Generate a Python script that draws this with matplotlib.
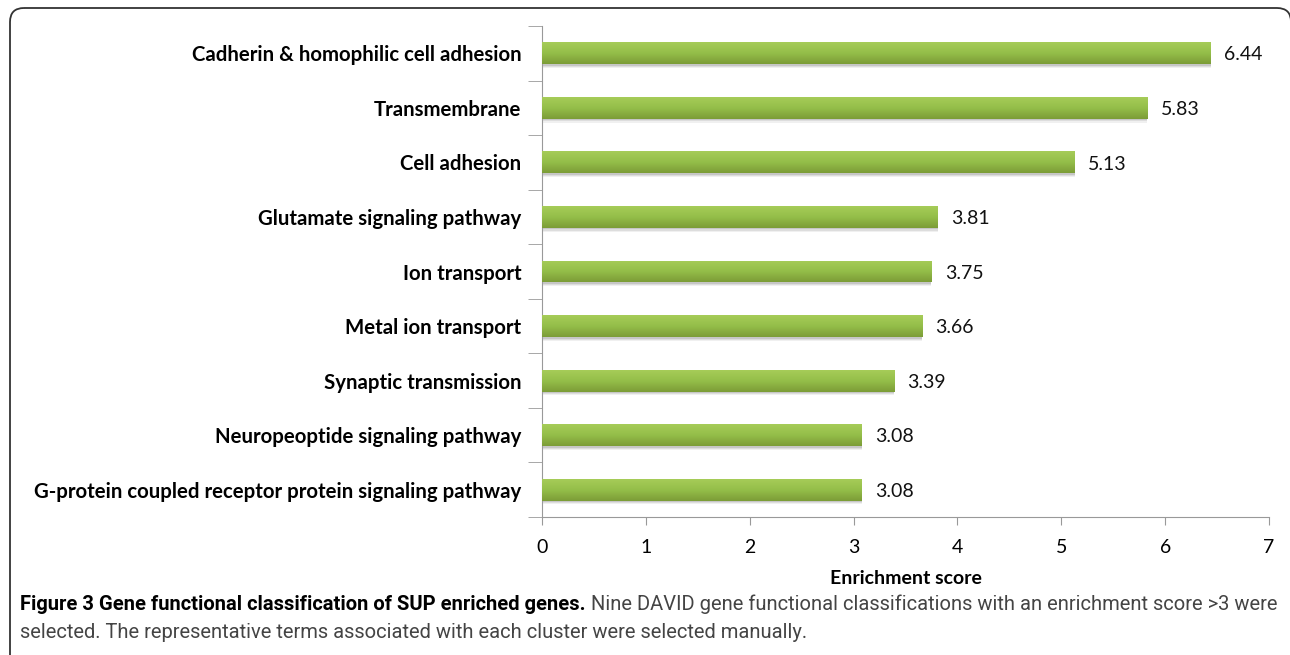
import matplotlib.pyplot as plt
import numpy as np
from matplotlib.patches import FancyBboxPatch
from matplotlib.colors import LinearSegmentedColormap

terms = ["Cadherin & homophilic cell adhesion", "Transmembrane", "Cell adhesion",
         "Glutamate signaling pathway", "Ion transport", "Metal ion transport",
         "Synaptic transmission", "Neuropeoptide signaling pathway",
         "G-protein coupled receptor protein signaling pathway"]
scores = [6.44, 5.83, 5.13, 3.81, 3.75, 3.66, 3.39, 3.08, 3.08]
xticks = [0, 1, 2, 3, 4, 5, 6, 7]

caption_bold = "Figure 3 Gene functional classification of SUP enriched genes."
caption_1 = " Nine DAVID gene functional classifications with an enrichment score >3 were"
caption_2 = "selected. The representative terms associated with each cluster were selected manually."

W, H = 1290, 655
fig = plt.figure(figsize=(W / 100, H / 100), dpi=100)

# background axes in pixel units for the rounded frame
bg = fig.add_axes([0, 0, 1, 1], zorder=-1)
bg.set_xlim(0, W)
bg.set_ylim(H, 0)
bg.axis("off")
bg.add_patch(FancyBboxPatch((10, 8), 1281, 670, boxstyle="round,pad=0,rounding_size=14",
                            fill=False, ec="#333333", lw=1.3))

ax = fig.add_axes([542 / W, 1 - 517 / H, 727 / W, 491 / H])
y = np.arange(len(terms))
h = 0.4

# soft shadow under bars
for k, a in [(0.07, 0.06), (0.05, 0.08), (0.03, 0.10)]:
    ax.barh(y + k, scores, height=h, color="#000000", alpha=a, lw=0, zorder=1)

bars = ax.barh(y, scores, height=h, color="#8db443", lw=0, zorder=2)
grad = np.linspace(0, 1, 100).reshape(-1, 1)
cmap = LinearSegmentedColormap.from_list("g", ["#a6cc58", "#94be49", "#7c9c37"])
for b in bars:
    x0, y0, w, hh = b.get_x(), b.get_y(), b.get_width(), b.get_height()
    im = ax.imshow(grad, cmap=cmap, aspect="auto", extent=[x0, x0 + w, y0 + hh, y0], zorder=3)
    im.set_clip_path(b)

for yi, s in zip(y, scores):
    ax.text(s + 0.13, yi + 0.03, f"{s:.2f}", va="center", ha="left", fontsize=14,
            family="Lato", color="#111111")

ax.set_xlim(0, 7)
ax.set_ylim(len(terms) - 0.5, -0.5)
ax.set_xticks(xticks)
ax.set_xticklabels([str(t) for t in xticks], fontsize=14, family="Lato")
ax.set_yticks(y)
ax.set_yticklabels(terms, fontsize=14.7, family="Lato", fontweight="bold")
ax.tick_params(axis="y", length=0, pad=15)
ax.set_yticks(np.arange(len(terms) + 1) - 0.5, minor=True)
ax.tick_params(axis="y", which="minor", length=10, color="#999999")
ax.tick_params(axis="x", length=6, color="#999999", pad=10)
for sp in ["top", "right"]:
    ax.spines[sp].set_visible(False)
ax.spines["left"].set_color("#999999")
ax.spines["bottom"].set_color("#999999")
ax.set_xlabel("Enrichment score", fontsize=14, family="Lato", fontweight="bold", labelpad=10)

# caption, first line fitted to the frame width
cap_font = "Roboto"
fs = 12.5
t1 = fig.text(20 / W, 1 - 604 / H, caption_bold, fontsize=fs, family=cap_font,
              fontweight="bold", va="center", ha="left")
t2 = fig.text(0, 1 - 604 / H, caption_1, fontsize=fs, family=cap_font,
              va="center", ha="left", color="#444444")
r = fig.canvas.get_renderer()
total = t1.get_window_extent(r).width + t2.get_window_extent(r).width
fs = fs * 1258 / total
t1.set_fontsize(fs)
t2.set_fontsize(fs)
t2.set_x(t1.get_window_extent(r).x1 / W)
fig.text(20 / W, 1 - 633 / H, caption_2, fontsize=fs, family=cap_font,
         va="center", ha="left", color="#444444")

fig.savefig("out.png", dpi=100)
